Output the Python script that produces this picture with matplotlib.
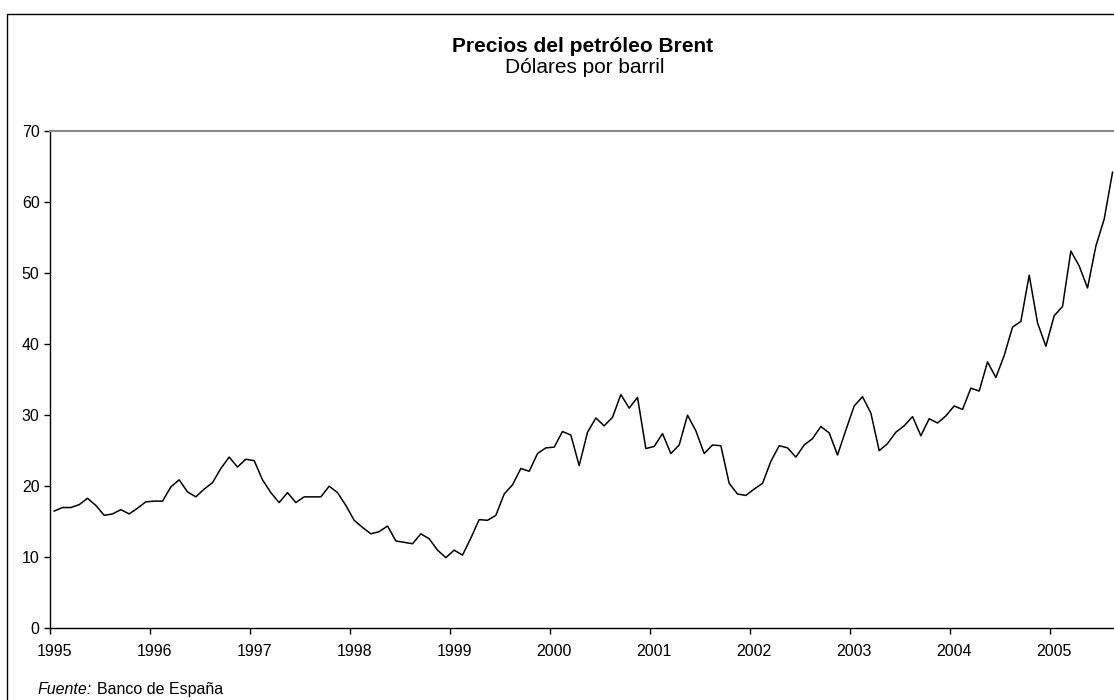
import numpy as np
import matplotlib
matplotlib.use("Agg")
import matplotlib.pyplot as plt
from matplotlib.patches import Rectangle

plt.rcParams['font.family'] = ['Liberation Sans', 'DejaVu Sans']

# Monthly Brent price (USD/barrel), Jan 1995 - Aug 2005
p1995 = [16.5, 17.0, 17.0, 17.4, 18.3, 17.3, 15.9, 16.1, 16.7, 16.1, 16.9, 17.8]
p1996 = [17.9, 17.9, 19.9, 20.9, 19.2, 18.5, 19.6, 20.5, 22.5, 24.1, 22.7, 23.8]
p1997 = [23.6, 20.9, 19.1, 17.7, 19.1, 17.7, 18.5, 18.5, 18.5, 20.0, 19.1, 17.3]
p1998 = [15.2, 14.2, 13.3, 13.6, 14.4, 12.3, 12.1, 11.9, 13.3, 12.6, 11.0, 9.95]
p1999 = [11.0, 10.3, 12.7, 15.3, 15.2, 15.9, 18.9, 20.2, 22.5, 22.1, 24.6, 25.4]
p2000 = [25.5, 27.7, 27.2, 22.9, 27.6, 29.6, 28.5, 29.7, 32.9, 31.0, 32.5, 25.3]
p2001 = [25.6, 27.4, 24.6, 25.8, 30.0, 27.8, 24.6, 25.8, 25.7, 20.4, 18.9, 18.7]
p2002 = [19.6, 20.4, 23.5, 25.7, 25.4, 24.1, 25.8, 26.7, 28.4, 27.5, 24.4, 27.9]
p2003 = [31.3, 32.6, 30.3, 25.0, 26.0, 27.6, 28.5, 29.8, 27.1, 29.5, 28.9, 29.9]
p2004 = [31.3, 30.8, 33.8, 33.4, 37.5, 35.3, 38.4, 42.4, 43.2, 49.7, 43.0, 39.7]
p2005 = [44.0, 45.3, 53.1, 51.0, 47.9, 53.8, 57.6, 64.2]

years = ['1995', '1996', '1997', '1998', '1999', '2000',
         '2001', '2002', '2003', '2004', '2005']
y_ticks = [0, 10, 20, 30, 40, 50, 60, 70]

prices = np.array(p1995 + p1996 + p1997 + p1998 + p1999 + p2000 +
                  p2001 + p2002 + p2003 + p2004 + p2005)
# category axis: each month sits in the middle of its slot
months = np.arange(len(prices)) + 0.5

W, H = 1114, 700
fig = plt.figure(figsize=(W / 100, H / 100), dpi=100)

# outer chart frame (cut off at right/bottom like the source)
fig.add_artist(Rectangle((7 / W, -0.1), 1.2, (H - 14) / H + 0.1,
                         transform=fig.transFigure, fill=False,
                         edgecolor='black', lw=1))

ax = fig.add_axes([50 / W, (H - 628.3) / H, 1066.7 / W, (628.3 - 131) / H])
ax.plot(months, prices, color='black', lw=1.1)

ax.set_xlim(0, 128)
ax.set_ylim(0, 70)

# year boundaries get the tick marks, labels sit on the January slot
ax.set_xticks(np.arange(len(years)) * 12)
ax.set_xticklabels([])
ax.set_xticks(np.arange(len(years)) * 12 + 0.5, minor=True)
ax.set_xticklabels(years, minor=True)
ax.tick_params(axis='x', which='major', direction='out', length=4, width=1)
ax.tick_params(axis='x', which='minor', length=0, pad=11.5, labelsize=11.5)

ax.set_yticks(y_ticks)
ax.tick_params(axis='y', direction='out', length=4.5, width=1, pad=3,
               labelsize=11.5)

for side in ['left', 'bottom']:
    ax.spines[side].set_color('black')
    ax.spines[side].set_linewidth(1)
ax.spines['top'].set_color('#8c8c8c')
ax.spines['top'].set_linewidth(1.5)
ax.spines['right'].set_visible(False)

# titles and source note
fig.text(583 / W, 1 - 52 / H, 'Precios del petróleo Brent', ha='center',
         va='baseline', fontsize=15, fontweight='bold')
fig.text(585 / W, 1 - 73 / H, 'Dólares por barril', ha='center',
         va='baseline', fontsize=15)
src = fig.text(38 / W, 1 - 697 / H, 'Fuente:', ha='left', va='bottom',
               fontsize=11.5, fontstyle='italic')
ax.annotate('Banco de España', xy=(1, 0), xycoords=src, xytext=(3.5, 0),
            textcoords='offset points', ha='left', va='bottom',
            fontsize=11.5, annotation_clip=False)

plt.savefig('out.png', dpi=100)
